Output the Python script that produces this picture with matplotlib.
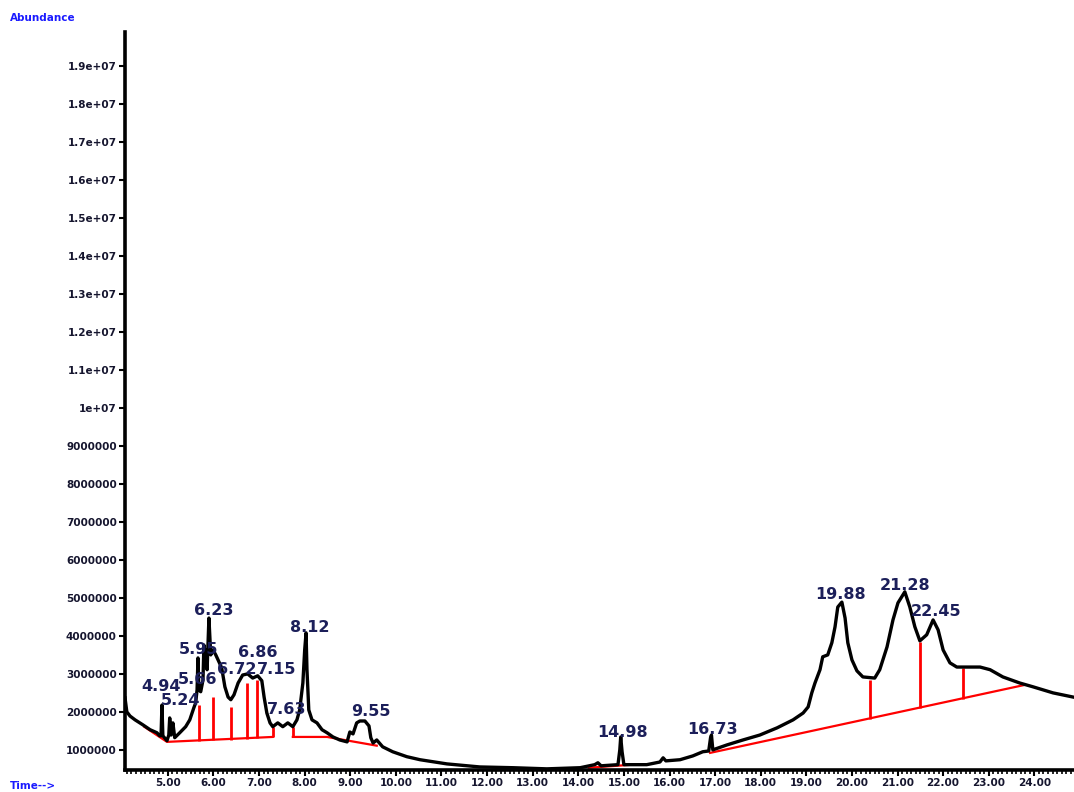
import numpy as np
import matplotlib
matplotlib.use('Agg')
import matplotlib.pyplot as plt
from matplotlib.ticker import MultipleLocator, FormatStrFormatter

# chromatogram trace (retention time in min, abundance in millions)
time = [4.06, 4.10, 4.17, 4.28, 4.45, 4.61, 4.76, 4.82, 4.85, 4.87, 4.89, 4.98,
        5.02, 5.04, 5.07, 5.11, 5.15, 5.26, 5.39, 5.48, 5.57, 5.61, 5.64, 5.66,
        5.68, 5.72, 5.77, 5.79, 5.81, 5.83, 5.86, 5.90, 5.94, 5.99, 6.05, 6.12,
        6.18, 6.25, 6.32, 6.38, 6.45, 6.54, 6.64, 6.75, 6.86, 6.97, 7.06, 7.11,
        7.17, 7.24, 7.30, 7.41, 7.52, 7.63, 7.74, 7.83, 7.89, 7.96, 8.00, 8.03,
        8.05, 8.09, 8.16, 8.27, 8.38, 8.49, 8.62, 8.77, 8.93, 8.99, 9.06, 9.14,
        9.21, 9.32, 9.41, 9.45, 9.50, 9.58, 9.71, 9.93, 10.24, 10.53, 11.12,
        11.84, 12.57, 13.31, 14.04, 14.36, 14.43, 14.50, 14.87, 14.91, 14.93,
        14.96, 15.00, 15.50, 15.79, 15.86, 15.92, 16.23, 16.51, 16.73, 16.86,
        16.90, 16.92, 16.95, 17.26, 17.61, 17.98, 18.36, 18.71, 18.93, 19.04,
        19.12, 19.19, 19.30, 19.36, 19.47, 19.56, 19.63, 19.69, 19.78, 19.85,
        19.91, 20.00, 20.11, 20.24, 20.50, 20.61, 20.77, 20.90, 21.01, 21.16,
        21.27, 21.38, 21.49, 21.64, 21.78, 21.89, 22.00, 22.15, 22.30, 22.52,
        22.81, 23.03, 23.31, 23.68, 23.97, 24.41, 24.85]
abund = [2.37, 2.00, 1.89, 1.79, 1.66, 1.53, 1.45, 1.37, 1.37, 2.18, 1.37, 1.24,
         1.39, 1.84, 1.39, 1.71, 1.32, 1.45, 1.61, 1.79, 2.11, 2.24, 2.58, 3.42,
         2.58, 2.53, 2.84, 3.76, 3.24, 3.63, 3.11, 4.47, 3.50, 3.63, 3.50, 3.32,
         3.16, 2.66, 2.39, 2.32, 2.45, 2.76, 2.97, 3.00, 2.89, 2.95, 2.82, 2.39,
         1.97, 1.71, 1.61, 1.71, 1.61, 1.71, 1.61, 1.79, 2.05, 2.76, 3.63, 4.08,
         3.11, 2.05, 1.79, 1.71, 1.53, 1.45, 1.34, 1.26, 1.21, 1.47, 1.42, 1.71,
         1.76, 1.76, 1.63, 1.32, 1.18, 1.26, 1.08, 0.95, 0.82, 0.74, 0.63,
         0.55, 0.53, 0.50, 0.53, 0.61, 0.66, 0.58, 0.61, 1.00, 1.34,
         0.95, 0.61, 0.61, 0.68, 0.79, 0.71, 0.74, 0.84, 0.95, 0.97,
         1.32, 1.39, 1.00, 1.13, 1.26, 1.39, 1.58, 1.79, 1.97, 2.13,
         2.50, 2.76, 3.11, 3.45, 3.50, 3.82, 4.24, 4.76, 4.89, 4.47,
         3.82, 3.37, 3.08, 2.92, 2.89, 3.11, 3.71, 4.42, 4.87, 5.16,
         4.76, 4.24, 3.87, 4.03, 4.42, 4.16, 3.63, 3.29, 3.18, 3.18,
         3.18, 3.11, 2.92, 2.76, 2.66, 2.50, 2.39]

# integration baselines (red)
base_segments = [
    ([4.48, 4.98, 7.30], [1.61, 1.21, 1.34]),
    ([7.74, 8.49, 9.58], [1.34, 1.34, 1.11]),
    ([14.23, 15.20], [0.53, 0.61]),
    ([16.89, 23.79], [0.92, 2.71]),
]
drop_t = [5.68, 5.99, 6.38, 6.73, 6.95, 7.30, 7.74, 20.39, 21.49, 22.43]
drop_lo = [1.24, 1.25, 1.27, 1.29, 1.31, 1.34, 1.34, 1.82, 2.11, 2.34]
drop_hi = [2.18, 2.39, 2.13, 2.76, 2.84, 1.61, 1.61, 2.84, 3.84, 3.16]

# peak labels
peak_text = ['4.94', '5.24', '5.66', '5.95', '6.23', '6.72', '6.86', '7.15',
             '7.63', '8.12', '9.55', '14.98', '16.73', '19.88', '21.28', '22.45']
peak_x = [4.85, 5.27, 5.64, 5.68, 6.01, 6.51, 6.97, 7.39,
          7.61, 8.11, 9.45, 14.96, 16.95, 19.76, 21.16, 21.84]
peak_y = [2.68, 2.30, 2.84, 3.63, 4.68, 3.11, 3.55, 3.11,
          2.05, 4.21, 2.00, 1.47, 1.53, 5.08, 5.34, 4.63]

M = 1e6
fig = plt.figure(figsize=(10.74, 7.92), dpi=100)
ax = fig.add_axes([0.1164, 0.0278, 0.8836, 0.9318])

for bt, ba in base_segments:
    ax.plot(bt, np.array(ba) * M, color='red', lw=1.6, zorder=2)
ax.vlines(drop_t, np.array(drop_lo) * M, np.array(drop_hi) * M, color='red', lw=2.0, zorder=2)
ax.plot(time, np.array(abund) * M, color='black', lw=2.4, zorder=3)

for txt, px, py in zip(peak_text, peak_x, peak_y):
    ax.text(px, py * M, txt, ha='center', va='center', fontsize=11.5,
            fontweight='bold', color='#1c1f5a', zorder=4)

ax.set_xlim(4.06, 24.87)
ax.set_ylim(0.47 * M, 19.9 * M)

ax.xaxis.set_major_locator(MultipleLocator(1))
ax.xaxis.set_minor_locator(MultipleLocator(0.1))
ax.xaxis.set_major_formatter(FormatStrFormatter('%.2f'))
ax.set_yticks(np.arange(1, 20) * M)
ylabels = [f'{i}000000' for i in range(1, 10)] + ['1e+07'] + [f'1.{i}e+07' for i in range(1, 10)]
ax.set_yticklabels(ylabels)

for s in ['top', 'right']:
    ax.spines[s].set_visible(False)
for s in ['left', 'bottom']:
    ax.spines[s].set_linewidth(2.6)
ax.tick_params(axis='both', which='major', labelsize=7.5, width=1.5, length=4,
               colors='black', labelcolor='#15152e', pad=2)
ax.tick_params(axis='x', which='minor', width=1.2, length=3)
for lab in ax.get_xticklabels() + ax.get_yticklabels():
    lab.set_fontweight('bold')

fig.text(0.009, 0.977, 'Abundance', color='#1a1aff', fontsize=7.5, fontweight='bold',
         ha='left', va='center')
fig.text(0.009, 0.007, 'Time-->', color='#1a1aff', fontsize=7.5, fontweight='bold',
         ha='left', va='center')

fig.savefig('out.png', dpi=100)
